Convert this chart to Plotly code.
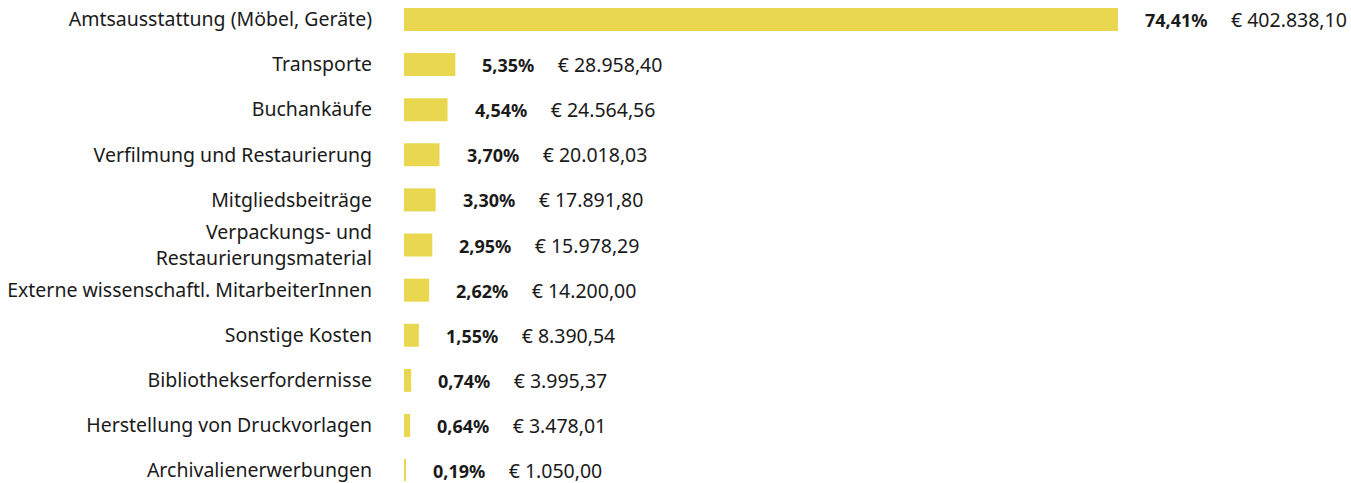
import plotly.graph_objects as go

categories = [
    "Amtsausstattung (Möbel, Geräte)",
    "Transporte",
    "Buchankäufe",
    "Verfilmung und Restaurierung",
    "Mitgliedsbeiträge",
    "Verpackungs- und<br>Restaurierungsmaterial",
    "Externe wissenschaftl. MitarbeiterInnen",
    "Sonstige Kosten",
    "Bibliothekserfordernisse",
    "Herstellung von Druckvorlagen",
    "Archivalienerwerbungen",
]
shares = [74.41, 5.35, 4.54, 3.70, 3.30, 2.95, 2.62, 1.55, 0.74, 0.64, 0.19]
amounts = [402838.10, 28958.40, 24564.56, 20018.03, 17891.80, 15978.29,
           14200.00, 8390.54, 3995.37, 3478.01, 1050.00]

BAR_COLOR = "#E9D84F"
TEXT_COLOR = "#1a1a1a"
FONT = "Noto Sans"


def fmt_pct(v):
    return f"{v:.2f}".replace(".", ",") + "%"


def fmt_eur(v):
    s = f"{v:,.2f}"
    s = s.replace(",", "X").replace(".", ",").replace("X", ".")
    return "€\u00a0" + s


idx = list(range(len(categories)))

fig = go.Figure()
fig.add_trace(go.Bar(
    x=shares,
    y=idx,
    orientation="h",
    width=0.51,
    marker=dict(color=BAR_COLOR, line=dict(width=0)),
    hoverinfo="skip",
))

for i, (s, a) in enumerate(zip(shares, amounts)):
    fig.add_annotation(
        x=s, y=i, xref="x", yref="y",
        text=(f"<b>{fmt_pct(s)}</b>\u00a0\u00a0\u00a0\u00a0\u00a0"
              f"<span style='font-size:19.5px'>{fmt_eur(a)}</span>"),
        showarrow=False, xanchor="left", yanchor="middle",
        xshift=25,
        font=dict(family=FONT, size=18, color=TEXT_COLOR),
    )

fig.update_layout(
    width=1351, height=483,
    margin=dict(l=404, r=0, t=0, b=0),
    paper_bgcolor="white", plot_bgcolor="white",
    showlegend=False,
    font=dict(family=FONT, size=19.5, color=TEXT_COLOR),
    xaxis=dict(range=[0, 98.7], visible=False, fixedrange=True),
    yaxis=dict(
        range=[10.23, -0.43],
        tickmode="array", tickvals=idx, ticktext=categories,
        showgrid=False, zeroline=False, showline=False, ticks="",
        ticklabelstandoff=31,
        ticklabeloverflow="allow",
        tickfont=dict(family=FONT, size=19.5, color=TEXT_COLOR),
        fixedrange=True,
    ),
)

fig.write_html("out.html")
